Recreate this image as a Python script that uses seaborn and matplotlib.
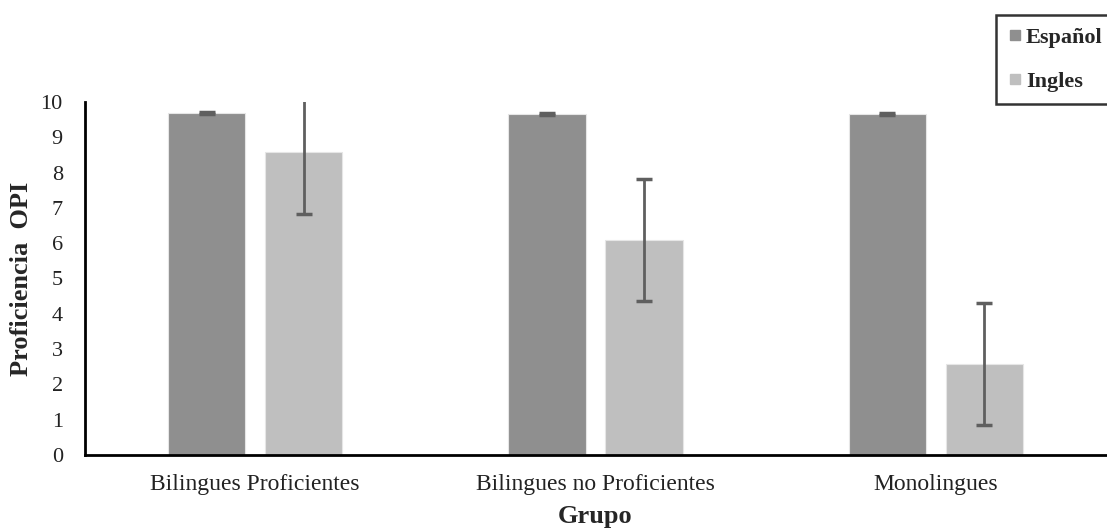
import matplotlib
matplotlib.use("Agg")
import matplotlib.pyplot as plt
from matplotlib.lines import Line2D
import seaborn as sns
import pandas as pd
import numpy as np

grupos = ["Bilingues Proficientes", "Bilingues no Proficientes", "Monolingues"]
idiomas = ["Español", "Ingles"]
espanol = [9.69, 9.66, 9.66]
ingles = [8.58, 6.09, 2.58]
err_espanol = [0.02, 0.02, 0.02]
err_ingles = [1.75, 1.73, 1.73]
colores = ["#8f8f8f", "#bfbfbf"]

df = pd.DataFrame({
    "Grupo": grupos * 2,
    "Idioma": [idiomas[0]] * 3 + [idiomas[1]] * 3,
    "valor": espanol + ingles,
})

sns.set_style("white")
plt.rcParams["font.family"] = ["Liberation Serif", "DejaVu Serif"]

W, H = 1107, 531
fig = plt.figure(figsize=(W / 100, H / 100), dpi=100)
ax = fig.add_axes([85 / W, 1 - 455 / H, (1106 - 85) / W, (455 - 102) / H])

sns.barplot(data=df, x="Grupo", y="valor", hue="Idioma", palette=colores,
            width=0.57, gap=0.2, errorbar=None, ax=ax, legend=False,
            edgecolor="#e6e6e6", linewidth=0.8)

errs = err_espanol + err_ingles
vals = espanol + ingles
patches = [p for p in ax.patches][:6]
for p, v, e in zip(patches, vals, errs):
    xc = p.get_x() + p.get_width() / 2
    ax.errorbar(xc, v, yerr=e, fmt="none", ecolor="#5f5f5f", elinewidth=2,
                capsize=6, capthick=2.5, clip_on=True, zorder=5)

ax.set_ylim(0, 10)
ax.set_xlim(-0.5, 2.5)
ax.set_yticks(range(0, 11))
ax.tick_params(axis="y", direction="in", length=6, width=1.5, labelsize=16, pad=16, colors="black")
ax.tick_params(axis="x", length=0, labelsize=17, pad=14)
for lab in ax.get_yticklabels() + ax.get_xticklabels():
    lab.set_color("#222222")

for s in ["top", "right"]:
    ax.spines[s].set_visible(False)
for s in ["left", "bottom"]:
    ax.spines[s].set_color("black")
    ax.spines[s].set_linewidth(2)

ax.set_ylabel("Proficiencia  OPI", fontsize=19, fontweight="bold")
ax.yaxis.set_label_coords((33 - 85) / 1021, 0.5)
ax.set_xlabel("Grupo", fontsize=19, fontweight="bold", labelpad=7)

handles = [Line2D([0], [0], marker="s", linestyle="none", markersize=7,
                  markerfacecolor=c, markeredgecolor=c) for c in colores]
leg = fig.legend(handles, idiomas, loc="upper left",
                 bbox_to_anchor=(996 / W, 1 - 15 / H), borderaxespad=0,
                 prop={"family": "Liberation Serif", "weight": "bold", "size": 16},
                 frameon=True, fancybox=False, edgecolor="black",
                 handlelength=0.6, handletextpad=0.2, labelspacing=1.05,
                 borderpad=0.55)
leg.get_frame().set_linewidth(1.8)

fig.savefig("out.png", dpi=100)
